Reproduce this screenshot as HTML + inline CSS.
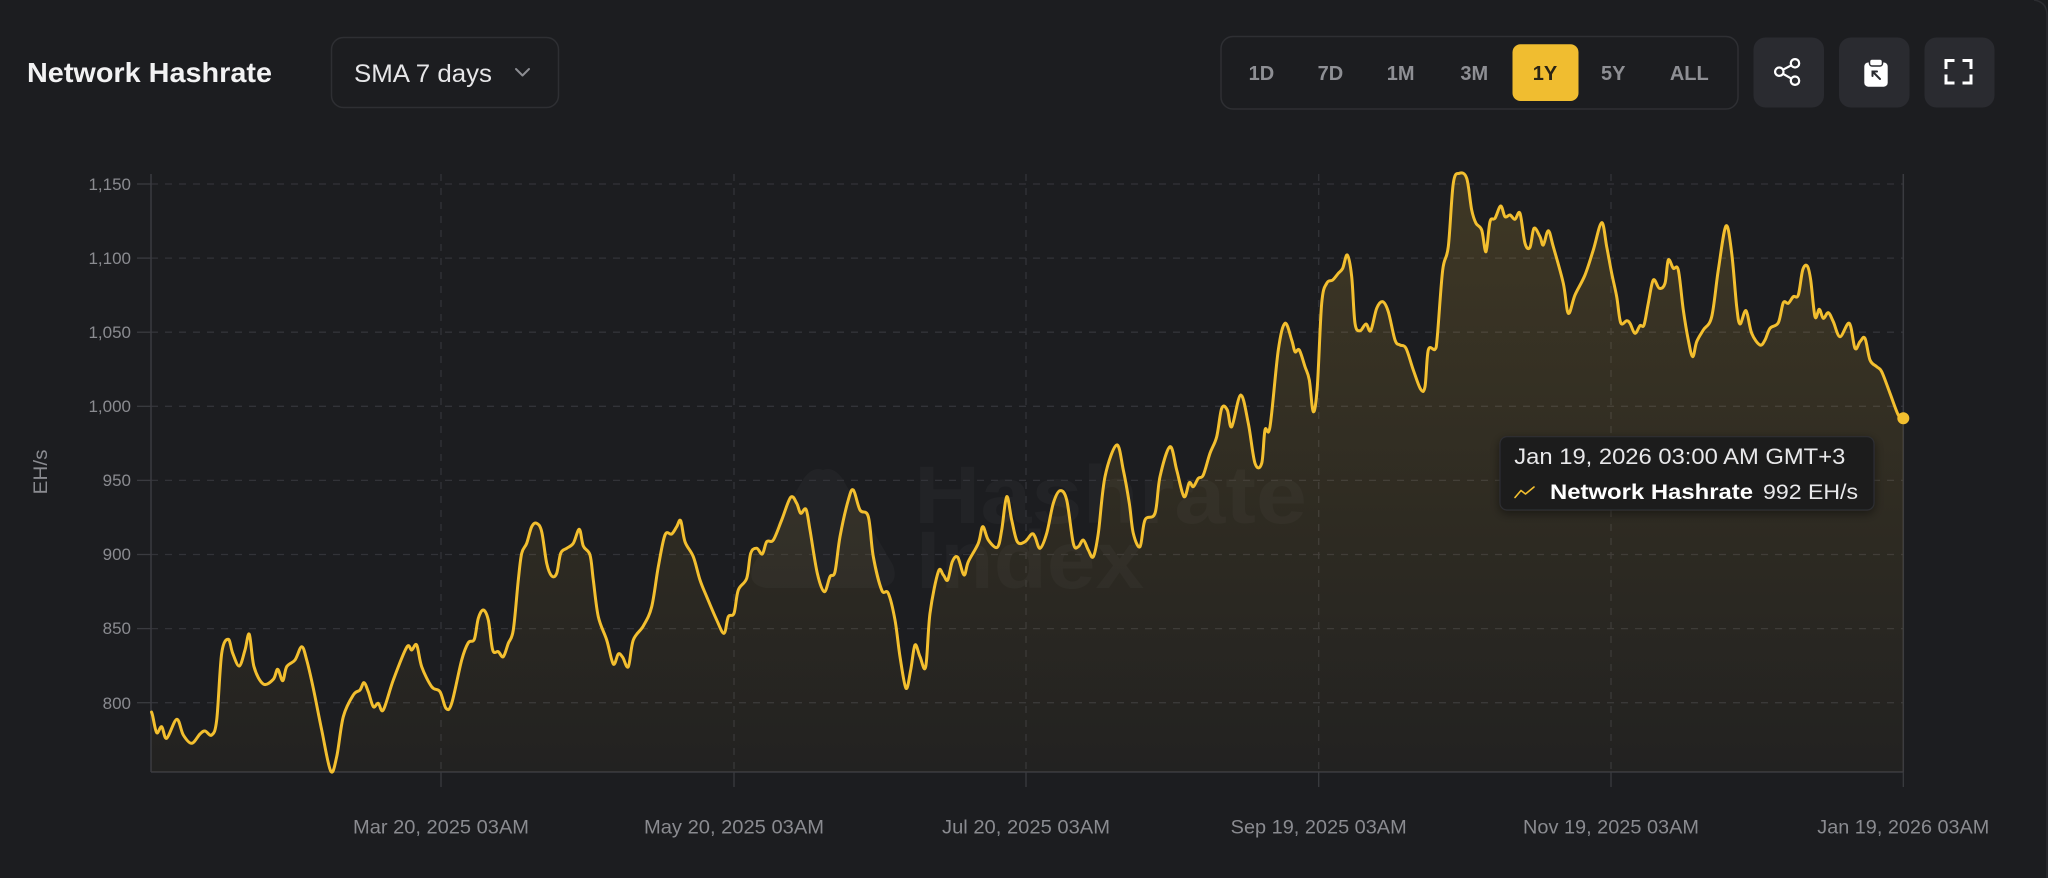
<!DOCTYPE html>
<html>
<head>
<meta charset="utf-8">
<style>
  html,body{margin:0;padding:0;background:#1c1d20;}
  body{width:2048px;height:878px;overflow:hidden;}
  svg{display:block;font-family:"Liberation Sans",Arial,sans-serif;}
</style>
</head>
<body>
<svg width="2048" height="878" viewBox="0 0 2048 878" xmlns="http://www.w3.org/2000/svg">
  <defs>
    <linearGradient id="fillGrad" gradientUnits="userSpaceOnUse" x1="0" y1="174" x2="0" y2="772">
      <stop offset="0" stop-color="#e8b93a" stop-opacity="0.17"/>
      <stop offset="1" stop-color="#e8b93a" stop-opacity="0.03"/>
    </linearGradient>
    <filter id="shadow" x="-10%" y="-20%" width="120%" height="150%">
      <feDropShadow dx="0" dy="3" stdDeviation="5" flood-color="#000" flood-opacity="0.45"/>
    </filter>
  </defs>

  <rect x="0" y="0" width="2048" height="878" fill="#1c1d20"/>
  <path d="M2034,0 Q2047,2 2047,15 L2047,878" fill="none" stroke="#2c2d31" stroke-width="1.5"/>

  <!-- Header -->
  <text x="27" y="82" font-size="28" font-weight="bold" fill="#f2f2f3" textLength="245" lengthAdjust="spacingAndGlyphs">Network Hashrate</text>

  <rect x="331.5" y="37.5" width="227" height="70" rx="12" fill="#1c1d20" stroke="#2e2f33" stroke-width="1.5"/>
  <text x="354" y="82" font-size="25" fill="#e6e6e8" textLength="138" lengthAdjust="spacingAndGlyphs">SMA 7 days</text>
  <polyline points="516,69 522.5,75.5 529,69" fill="none" stroke="#8c8d92" stroke-width="2" stroke-linecap="round" stroke-linejoin="round"/>

  <rect x="1221" y="36.5" width="517" height="72.5" rx="12" fill="#1c1d20" stroke="#2e2f33" stroke-width="1.5"/>
  <rect x="1512.5" y="44.3" width="66" height="56.7" rx="8" fill="#f0bd30"/>
  <g font-size="20" font-weight="bold" fill="#8e8f94" text-anchor="middle">
    <text x="1261.4" y="80">1D</text>
    <text x="1330.4" y="80">7D</text>
    <text x="1400.7" y="80">1M</text>
    <text x="1474.3" y="80">3M</text>
    <text x="1545" y="80" fill="#2a2415">1Y</text>
    <text x="1613.2" y="80">5Y</text>
    <text x="1689.3" y="80">ALL</text>
  </g>

  <rect x="1753.5" y="37.5" width="70.5" height="70" rx="12" fill="#2a2b30"/>
  <rect x="1839" y="37.5" width="70.5" height="70" rx="12" fill="#2a2b30"/>
  <rect x="1924.5" y="37.5" width="70" height="70" rx="12" fill="#2a2b30"/>
  <g stroke="#ffffff" stroke-width="2.2" fill="#2a2b30">
    <line x1="1779.3" y1="71.7" x2="1795" y2="63.3"/>
    <line x1="1779.3" y1="71.7" x2="1795" y2="80.7"/>
    <circle cx="1795" cy="63.3" r="4.2"/>
    <circle cx="1779.3" cy="71.7" r="4.2"/>
    <circle cx="1795" cy="80.7" r="4.2"/>
  </g>
  <rect x="1864.3" y="62.5" width="23.4" height="24.2" rx="4" fill="#ffffff"/>
  <rect x="1869.5" y="59" width="13" height="7" rx="2.5" fill="#ffffff" stroke="#2a2b30" stroke-width="1.5"/>
  <g stroke="#2a2b30" stroke-width="2" fill="none" stroke-linecap="round">
    <line x1="1880" y1="79" x2="1872.5" y2="71.5"/>
    <polyline points="1872.5,76 1872.5,71.5 1877,71.5"/>
  </g>
  <g stroke="#ffffff" stroke-width="3" fill="none" stroke-linecap="square">
    <path d="M1946,67.5 V60.5 H1953"/>
    <path d="M1964,60.5 H1971 V67.5"/>
    <path d="M1946,76 V83 H1953"/>
    <path d="M1971,76 V83 H1964"/>
  </g>

  <!-- watermark -->
  <g fill="#ffffff" fill-opacity="0.028">
    <path d="M823,470 Q833,466 842,478 L893,565 Q900,585 880,588 L766,588 Q746,585 753,565 L804,478 Q813,466 823,470 Z"/>
    <text x="914" y="523" font-size="82" font-weight="bold" textLength="393" lengthAdjust="spacingAndGlyphs">Hashrate</text>
    <text x="916" y="588" font-size="82" font-weight="bold" textLength="228" lengthAdjust="spacingAndGlyphs">Index</text>
  </g>

  <g stroke="#323338" stroke-width="1.3" stroke-dasharray="7 7">
    <line x1="151" y1="184" x2="1903" y2="184"/>
    <line x1="151" y1="258.1" x2="1903" y2="258.1"/>
    <line x1="151" y1="332.2" x2="1903" y2="332.2"/>
    <line x1="151" y1="406.3" x2="1903" y2="406.3"/>
    <line x1="151" y1="480.4" x2="1903" y2="480.4"/>
    <line x1="151" y1="554.5" x2="1903" y2="554.5"/>
    <line x1="151" y1="628.6" x2="1903" y2="628.6"/>
    <line x1="151" y1="702.7" x2="1903" y2="702.7"/>
  </g>
  <g stroke="#323338" stroke-width="1.3" stroke-dasharray="7 7">
    <line x1="441" y1="174" x2="441" y2="772"/>
    <line x1="734" y1="174" x2="734" y2="772"/>
    <line x1="1026" y1="174" x2="1026" y2="772"/>
    <line x1="1318.7" y1="174" x2="1318.7" y2="772"/>
    <line x1="1611" y1="174" x2="1611" y2="772"/>
  </g>
  <g stroke="#3a3b40" stroke-width="1.3">
    <line x1="137" y1="184" x2="151" y2="184"/>
    <line x1="137" y1="258.1" x2="151" y2="258.1"/>
    <line x1="137" y1="332.2" x2="151" y2="332.2"/>
    <line x1="137" y1="406.3" x2="151" y2="406.3"/>
    <line x1="137" y1="480.4" x2="151" y2="480.4"/>
    <line x1="137" y1="554.5" x2="151" y2="554.5"/>
    <line x1="137" y1="628.6" x2="151" y2="628.6"/>
    <line x1="137" y1="702.7" x2="151" y2="702.7"/>
    <line x1="441" y1="772" x2="441" y2="787"/>
    <line x1="734" y1="772" x2="734" y2="787"/>
    <line x1="1026" y1="772" x2="1026" y2="787"/>
    <line x1="1318.7" y1="772" x2="1318.7" y2="787"/>
    <line x1="1611" y1="772" x2="1611" y2="787"/>
    <line x1="1903.3" y1="772" x2="1903.3" y2="787"/>
  </g>
  <g stroke="#3a3b40" stroke-width="1.5">
    <line x1="151" y1="174" x2="151" y2="772"/>
    <line x1="151" y1="772" x2="1903.3" y2="772"/>
    <line x1="1903.3" y1="174" x2="1903.3" y2="772"/>
  </g>

  <g font-size="17" fill="#8a8b90" text-anchor="end">
    <text x="131" y="190">1,150</text>
    <text x="131" y="264">1,100</text>
    <text x="131" y="338">1,050</text>
    <text x="131" y="412">1,000</text>
    <text x="131" y="486">950</text>
    <text x="131" y="560">900</text>
    <text x="131" y="634">850</text>
    <text x="131" y="709">800</text>
  </g>
  <text transform="translate(47,472) rotate(-90)" font-size="19" fill="#8a8b90" text-anchor="middle" textLength="45" lengthAdjust="spacingAndGlyphs">EH/s</text>

  <g font-size="19.5" fill="#8a8b90" text-anchor="middle">
    <text x="441" y="833.5" textLength="176" lengthAdjust="spacingAndGlyphs">Mar 20, 2025 03AM</text>
    <text x="734" y="833.5" textLength="180" lengthAdjust="spacingAndGlyphs">May 20, 2025 03AM</text>
    <text x="1026" y="833.5" textLength="168" lengthAdjust="spacingAndGlyphs">Jul 20, 2025 03AM</text>
    <text x="1318.7" y="833.5" textLength="176" lengthAdjust="spacingAndGlyphs">Sep 19, 2025 03AM</text>
    <text x="1611" y="833.5" textLength="176" lengthAdjust="spacingAndGlyphs">Nov 19, 2025 03AM</text>
    <text x="1903.3" y="833.5" textLength="172" lengthAdjust="spacingAndGlyphs">Jan 19, 2026 03AM</text>
  </g>

  <path id="area" fill="url(#fillGrad)" stroke="none" d=""/>
  <path id="line" fill="none" stroke="#f3bf2f" stroke-width="3" stroke-linejoin="round" stroke-linecap="round" d="M151.5,712 L152.7,716 L156.7,732.7 L161.7,726.7 L166.7,738.3 L176.7,719.3 L183.3,735 L191.7,743.3 L200,734 L205,731 L211.7,735 L216.7,720 L221.7,653.3 L228.3,639.3 L232.7,653.3 L239.3,666 L245,650 L249.3,634.3 L254,666.7 L263.3,684 L273.3,679.3 L277.7,669.3 L282.7,680.7 L286.7,666.7 L295,660 L301.7,646.7 L306.7,660 L313.3,688.3 L321.7,730 L330.7,771 L336.7,756.7 L343.3,716.7 L353.3,695 L360,690 L364,682.7 L368.3,691.7 L373.3,706.7 L378.3,703.3 L383.3,710 L393.3,680 L406.7,647.3 L411.7,650 L416.7,645 L421.7,666.7 L431.7,686.7 L440,691.7 L446,708.3 L451.7,703.3 L461.7,660 L468.3,642.7 L474.3,639.3 L478.3,618.3 L483.3,610 L488.3,620 L492.7,650 L498.3,651.7 L503.3,656.7 L508.3,643.3 L513.3,630 L518.3,580 L521.7,553.3 L526.7,543.3 L531.7,526.7 L536.7,523.3 L541.7,531.7 L546.7,563.3 L551.7,576 L556.7,573.3 L560.7,553.3 L566.7,548.3 L573.3,543.3 L579.3,529.3 L583.3,546 L590,555 L593.3,580 L598.3,616.7 L606.7,640 L613.3,664 L618.3,654 L622.7,657.3 L628.3,666.7 L633.3,640 L643.3,626 L651.7,606.7 L658.3,566.7 L665,535 L671.7,534 L676.7,526.7 L680.7,520.7 L685,541.7 L693.3,556.7 L700,580 L706.7,596.7 L716.7,620 L724,633.3 L728.3,616.7 L734,613.3 L738.3,590 L746.7,578.3 L750.7,553.3 L756.7,548.3 L762.3,554 L766.7,541.7 L773.3,540 L781.7,520 L790.7,497.3 L796.7,503.3 L800.7,513.3 L806,509.3 L810,530 L817.3,573.3 L824.3,591.7 L830,576.7 L835,571.7 L840,536.7 L848.3,500 L853.3,490 L860,510 L868.3,516.7 L873.3,556.7 L881.7,590 L888.3,593.3 L895,620 L900,656.7 L906,688.3 L910.7,670 L915,645 L920,656.7 L925.7,666.7 L930,613.3 L938.3,571.7 L943.3,575 L947.7,580 L952.3,561.7 L957.7,557.3 L964,575 L968.3,561.7 L978.3,543.3 L982.7,526.7 L988.3,540 L997.3,547.3 L1001.7,530 L1006.7,496.7 L1011.7,520 L1017.3,541.7 L1025,541.7 L1031.7,534 L1035,536.7 L1040,548.3 L1046.7,533.3 L1053.3,503.3 L1060,490.7 L1066.7,500 L1073.3,543.3 L1078.3,546.7 L1083.3,540 L1088.3,550 L1093.3,556.7 L1098.3,533.3 L1105,476.7 L1116.7,445 L1123.3,470 L1129.3,503.3 L1133.3,533.3 L1140,546.7 L1145,520 L1155,513.3 L1160,476.7 L1170,446.7 L1176.7,470 L1184,496.7 L1189.3,482.7 L1193.3,486.7 L1198.3,478.3 L1203.3,475 L1210,453.3 L1216.7,436.7 L1221.7,408.3 L1227.3,410 L1231.7,426.7 L1240.7,395 L1248.3,423.3 L1255,463.3 L1261.7,463.3 L1265,430 L1270,426.7 L1278.3,350 L1285,323.3 L1291.7,340 L1295,351.7 L1299.3,350 L1305,366.7 L1309.3,380 L1313.3,411.7 L1317.3,386.7 L1321.7,303.3 L1326.7,283.3 L1332.7,280 L1338.3,273.3 L1342.7,268.3 L1347.3,255 L1351.7,276.7 L1355,323.3 L1360,330.7 L1366,324 L1370.7,330.7 L1376.7,308.3 L1382.7,301.7 L1388.3,311.7 L1395,340 L1400,345 L1406,348.3 L1413.3,370 L1420.7,389.3 L1425,386.7 L1428.3,350 L1435,349.3 L1437.3,336.7 L1442.7,270 L1448.3,246.7 L1453.3,183.3 L1459.3,173.3 L1466.7,178.3 L1471.7,210 L1476,223.3 L1481.7,230 L1486,251.7 L1490,221.7 L1495,218.3 L1500.7,206 L1505,216.7 L1510,215 L1515,219.3 L1520,213.3 L1525,243.3 L1530,247.3 L1534,228.3 L1540,236.7 L1543.3,245 L1548.3,230.7 L1553.3,246.7 L1563.3,283.3 L1568.3,313.3 L1575,295 L1585,275 L1593.3,250 L1601.7,222.7 L1606.7,246.7 L1611.7,273.3 L1616.7,296.7 L1620.7,322.7 L1626.7,320.7 L1630,323.3 L1635,333.3 L1640,325.7 L1644,325 L1648.3,303.3 L1653.3,280 L1659.3,288.3 L1665,283.3 L1668.3,260 L1673.3,268.3 L1678.3,270 L1683.3,310 L1688.3,340 L1692.7,356.7 L1696.7,341.7 L1703.3,330 L1711.7,316.7 L1718.3,270 L1726,226 L1731.7,253.3 L1736.7,306.7 L1740,324 L1746,310.7 L1751.7,333.3 L1760,345 L1765,340 L1770,328.3 L1778.3,322.7 L1783.3,302.7 L1788.3,303.3 L1793.3,296.7 L1798.3,295 L1802.7,270 L1807.3,266 L1810.7,280 L1815,316.7 L1819.3,309.3 L1823.3,318.3 L1828.3,312.7 L1833.3,321.7 L1840,336.7 L1849.3,323.3 L1855,348.3 L1860,341.7 L1865,338.3 L1870,360 L1876.7,366.7 L1881.7,371.7 L1890,393.3 L1898.3,415 L1903.3,418.3"/>
  <circle cx="1903.3" cy="418.3" r="6" fill="#f3bf2f"/>

  <rect x="1500" y="436.7" width="374" height="73.3" rx="7" fill="#1b1c1f" stroke="#2e2f33" stroke-width="1.2" filter="url(#shadow)"/>
  <text x="1514.3" y="464" font-size="22" fill="#e8e8ea" textLength="331" lengthAdjust="spacingAndGlyphs">Jan 19, 2026 03:00 AM GMT+3</text>
  <polyline points="1515,497.5 1521,490.5 1525.5,494 1534,487" fill="none" stroke="#f3bf2f" stroke-width="1.6" stroke-linejoin="round" stroke-linecap="round"/>
  <text x="1550" y="499" font-size="21.5" font-weight="bold" fill="#ffffff" textLength="203" lengthAdjust="spacingAndGlyphs">Network Hashrate</text>
  <text x="1763" y="499" font-size="21.5" fill="#e8e8ea" textLength="95" lengthAdjust="spacingAndGlyphs">992 EH/s</text>
</svg>
<script>
(function(){
  var line=document.getElementById('line');
  var area=document.getElementById('area');
  var raw=line.getAttribute('d');
  area.setAttribute('d',raw+' L1903.3,772 L151.5,772 Z');
  try{
    var nums=raw.match(/-?\d+(\.\d+)?/g).map(Number);
    var p=[];
    for(var i=0;i<nums.length;i+=2){p.push([nums[i],nums[i+1]]);}
    var d='M'+p[0][0]+','+p[0][1];
    var t=1/6;
    for(var j=0;j<p.length-1;j++){
      var p0=p[j-1]||p[j],p1=p[j],p2=p[j+1],p3=p[j+2]||p2;
      var c1x=p1[0]+(p2[0]-p0[0])*t,c1y=p1[1]+(p2[1]-p0[1])*t;
      var c2x=p2[0]-(p3[0]-p1[0])*t,c2y=p2[1]-(p3[1]-p1[1])*t;
      d+=' C'+c1x.toFixed(2)+','+c1y.toFixed(2)+' '+c2x.toFixed(2)+','+c2y.toFixed(2)+' '+p2[0]+','+p2[1];
    }
    line.setAttribute('d',d);
    area.setAttribute('d',d+' L1903.3,772 L151.5,772 Z');
  }catch(e){}
})();
</script>
</body>
</html>
